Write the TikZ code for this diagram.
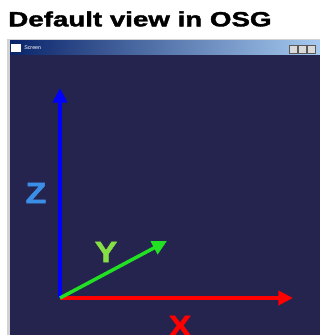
\documentclass[tikz,border=0pt]{standalone}
\usepackage{fontspec}
\setmainfont{Liberation Sans}
\newfontfamily\heavyfont{Liberation Sans Bold}[FakeBold=1.6]
\usetikzlibrary{arrows.meta,positioning}
\definecolor{osgnavy}{HTML}{25244F}
\definecolor{barleft}{HTML}{0A246A}
\definecolor{barright}{HTML}{A6CAF0}
\definecolor{zlabel}{HTML}{3A8EE6}
\definecolor{ylabel}{HTML}{86E045}
\definecolor{yaxis}{HTML}{22E022}
\begin{document}
\begin{tikzpicture}[
x=0.75pt, y=-0.75pt,
title/.style={font=\fontsize{15.5}{18}\heavyfont, anchor=west, inner sep=0pt, xscale=1.34},
axis/.style={line width=3.2pt, -{Triangle[length=11pt,width=10.5pt]}},
axislabel/.style={font=\fontsize{22}{24}\heavyfont, inner sep=0pt, xscale=1.15},
]
\useasboundingbox (0,0) rectangle (320,335);
\fill[white] (0,0) rectangle (320,335);

% window frame
\fill[gray!35] (7,39) rectangle (320,335);
\fill[osgnavy] (10,40) rectangle (320,335);
\shade[left color=barleft, right color=barright] (10,41) rectangle (320,55);
\fill[white] (11,44) rectangle (21,52);
\node[font=\fontsize{4}{5}\selectfont, text=white, anchor=west, inner sep=0pt] (caption) at (24,48) {Screen};
\foreach \bx in {289,298,307} {
  \fill[gray!30] (\bx,45) rectangle ++(8,8);
  \draw[gray!70!black, line width=0.3pt] (\bx,45) rectangle ++(8,8);
}

\node[title] (head) at (8,19) {Default view in OSG};

% axes
\coordinate (o) at (60,298);
\coordinate (ztip) at (60,88);
\coordinate (xtip) at (293,298);
\coordinate (ytip) at (167,241);
\draw[axis, blue] (o) -- (ztip);
\draw[axis, red] (o) -- (xtip);
\draw[axis, yaxis, line width=2.6pt] (o) -- (ytip);

\node[axislabel, text=zlabel] (z) at (36,193) {Z};
\node[axislabel, text=ylabel] (y) at (106,252) {Y};
\node[axislabel, text=red] (x) at (180,326) {X};
\end{tikzpicture}
\end{document}
